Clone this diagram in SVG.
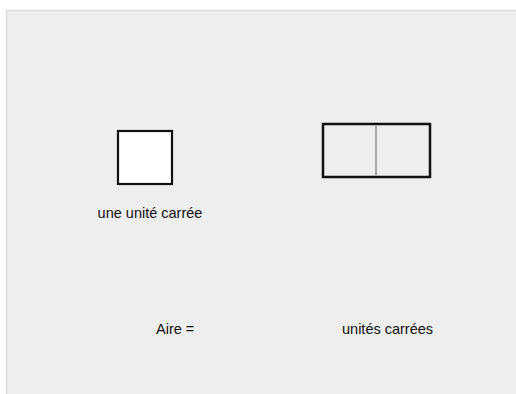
<svg xmlns="http://www.w3.org/2000/svg" width="516" height="394" viewBox="0 0 516 394">
<style>
.t{font-family:"Liberation Sans",Arial,sans-serif;font-size:14.5px;fill:#111}
</style>
<rect x="0" y="0" width="516" height="394" fill="#ffffff"/>
<rect x="6.5" y="10.5" width="520" height="400" fill="#eeeeee" stroke="#dcdcdc" stroke-width="1.5"/>
<g id="unit-square">
<rect x="118" y="131" width="54" height="53" fill="#ffffff" stroke="#111" stroke-width="2.2"/>
<text class="t" x="150" y="218" text-anchor="middle">une unité carrée</text>
</g>
<g id="rectangle">
<rect x="323" y="124" width="107" height="53" fill="none" stroke="#111" stroke-width="2.5"/>
<line x1="376" y1="125" x2="376" y2="176" stroke="#a8a8a8" stroke-width="2"/>
</g>
<g id="area-label">
<text class="t" x="156" y="334">Aire =</text>
<text class="t" x="342" y="334">unités carrées</text>
</g>
</svg>
